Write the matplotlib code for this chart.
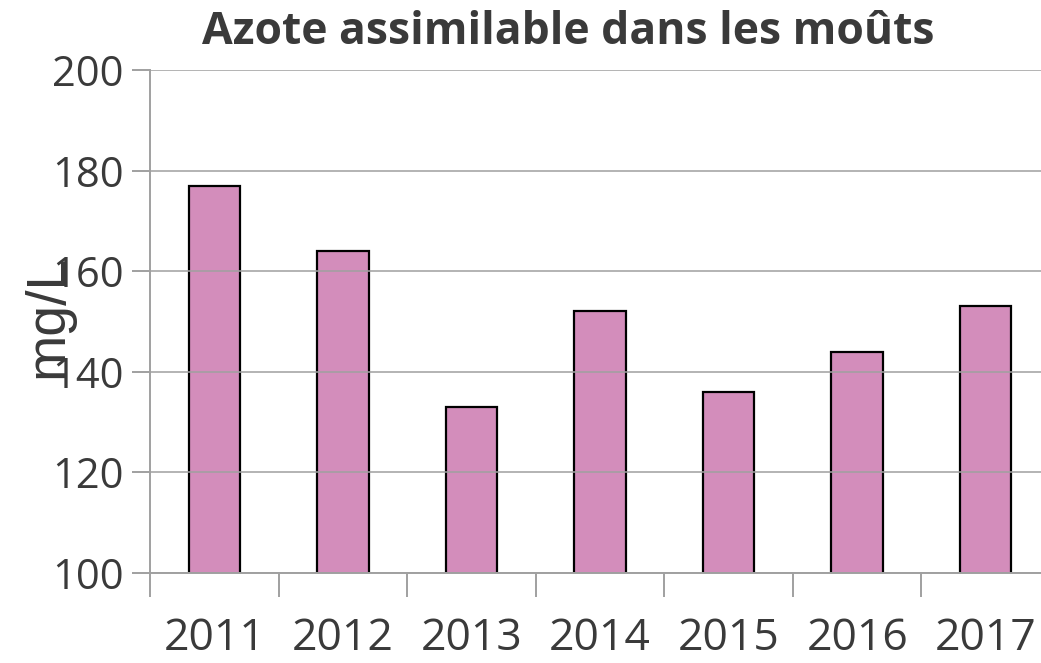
import matplotlib
matplotlib.use("Agg")
import matplotlib.pyplot as plt
import numpy as np

years = ["2011", "2012", "2013", "2014", "2015", "2016", "2017"]
values = [177, 164, 133, 152, 136, 144, 153]
yticks = [100, 120, 140, 160, 180, 200]

W, H = 1041, 663
fig = plt.figure(figsize=(W/100, H/100), dpi=100)
ax = fig.add_axes([150/W, (H-573)/H, 900/W, (573-70)/H])

x = np.arange(len(years))
ax.bar(x, values, width=0.4, color="#d38dbb", edgecolor="black", linewidth=1.6, zorder=2)
ax.set_xlim(-0.5, 6.5)
ax.set_ylim(100, 200)
ax.set_yticks(yticks)
ax.yaxis.grid(True, color="#a0a0a0", linewidth=1.4, alpha=0.8, zorder=3)
ax.set_axisbelow(False)

txt = "#3a3a3a"
ax.set_xticks(x)
ax.set_xticklabels(years, fontsize=32, color=txt, family="Open Sans")
ax.set_xticks(np.arange(-0.5, 7.0, 1.0), minor=True)
ax.tick_params(axis="x", which="major", length=0, pad=31)
ax.tick_params(axis="x", which="minor", length=17, width=1.4, color="#a0a0a0", direction="out")
ax.tick_params(axis="y", length=13, width=1.4, color="#a0a0a0", labelsize=30, labelcolor=txt, pad=6)
for l in ax.get_yticklabels():
    l.set_family("Open Sans")

for s in ["top", "right"]:
    ax.spines[s].set_visible(False)
for s in ["left", "bottom"]:
    ax.spines[s].set_color("#a0a0a0")
    ax.spines[s].set_linewidth(1.4)
ax.spines["left"].set_bounds(100, 200)

fig.text(568/W, 1-32/H, "Azote assimilable dans les moûts", ha="center", va="center",
         fontsize=32, fontweight="bold", color=txt, family="Open Sans")
fig.text(48/W, 1-316/H, "mg/L", rotation=90, ha="center", va="center",
         fontsize=40, color=txt, family="Liberation Sans")

fig.savefig("out.png", dpi=100)
